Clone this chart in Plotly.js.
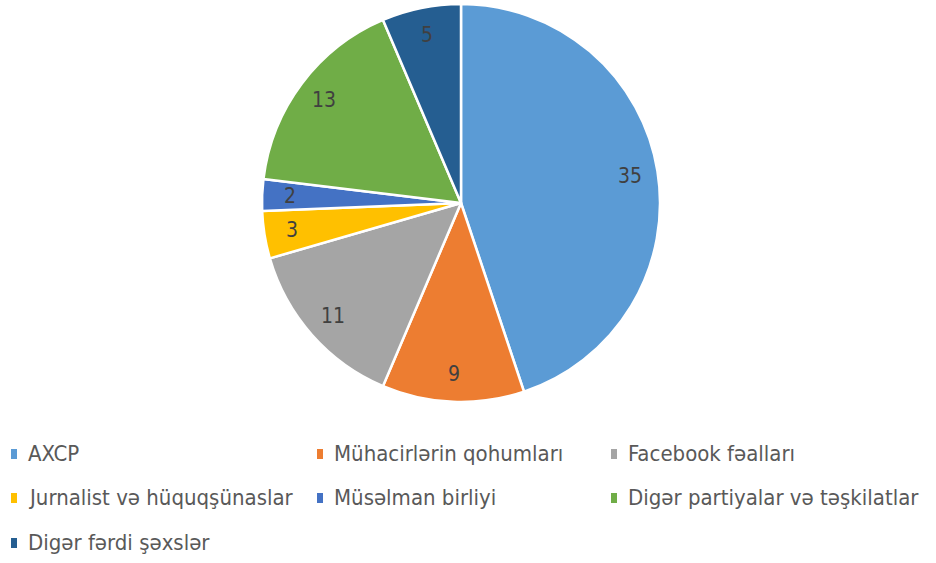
<!DOCTYPE html>
<html><head><meta charset="utf-8">
<script src="https://cdn.plot.ly/plotly-3.0.1.min.js"></script>
<style>html,body{margin:0;padding:0;background:#fff}#chart{width:936px;height:563px}</style>
</head><body><div id="chart"></div>
<script>
const labels = ["AXCP","Mühacirlərin qohumları","Facebook fəalları","Jurnalist və hüquqşünaslar","Müsəlman birliyi","Digər partiyalar və təşkilatlar","Digər fərdi şəxslər"];
const values = [35, 9, 11, 3, 2, 13, 5];
const colors = ["#5B9BD5","#ED7D31","#A5A5A5","#FFC000","#4472C4","#70AD47","#255E91"];

const W = 936, H = 563;
const cx = 461, cy = 203, R = 199;
const FONT = "'DejaVu Sans Condensed','Liberation Sans Narrow',sans-serif";

const total = values.reduce((a,b)=>a+b,0);
const annotations = [];
const shapes = [];
let cum = 0;
values.forEach((v,i)=>{
  const mid = (cum + v/2)/total*2*Math.PI;
  cum += v;
  const r = 0.86*R;
  const px = cx + r*Math.sin(mid), py = cy - r*Math.cos(mid);
  annotations.push({x:px/W, y:1-py/H, xref:'paper', yref:'paper', text:String(v), showarrow:false,
    font:{family:FONT, size:21, color:'#404040'}, xanchor:'center', yanchor:'middle'});
});

// legend built from labels/colors
const colX = [11, 317, 611];
const rowY = [454, 498, 543];
labels.forEach((lab,i)=>{
  const col = i%3, row = Math.floor(i/3);
  const x0 = colX[col], y0 = rowY[row];
  shapes.push({type:'rect', xref:'paper', yref:'paper', x0:x0/W, x1:(x0+6)/W, y0:1-(y0+5)/H, y1:1-(y0-5)/H,
    fillcolor:colors[i], line:{width:0}});
  annotations.push({x:(x0+15)/W, y:1-(y0-1)/H, xref:'paper', yref:'paper', text:lab, showarrow:false,
    xanchor:'left', yanchor:'middle', font:{family:FONT, size:22, color:'#595959'}});
});

const trace = {
  type:'pie', labels:labels, values:values, sort:false, direction:'clockwise', rotation:0,
  marker:{colors:colors, line:{color:'#ffffff', width:2.5}},
  textinfo:'none', hoverinfo:'label+value', showlegend:false,
  domain:{x:[(cx-R)/W,(cx+R)/W], y:[1-(cy+R)/H, 1-(cy-R)/H]}
};
const layout = {width:W, height:H, margin:{l:0,r:0,t:0,b:0}, paper_bgcolor:'#fff',
  showlegend:false, annotations:annotations, shapes:shapes};
Plotly.newPlot('chart',[trace],layout,{displayModeBar:false,staticPlot:true});
</script></body></html>
